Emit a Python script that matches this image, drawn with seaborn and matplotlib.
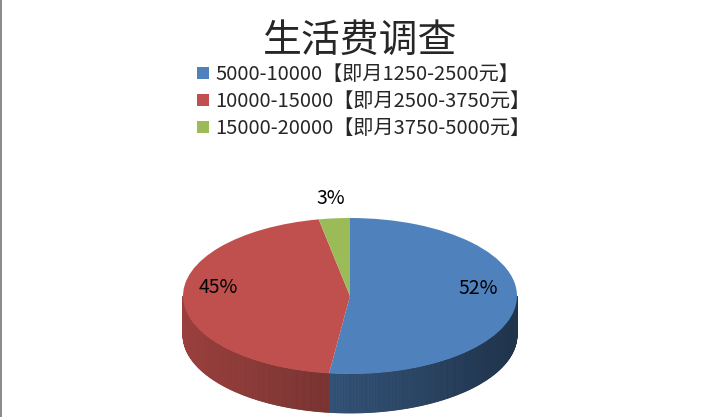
import numpy as np
import matplotlib.pyplot as plt
import seaborn as sns
from matplotlib.colors import to_rgb
from matplotlib.patches import Rectangle

# data
categories = ["5000-10000【即月1250-2500元】",
              "10000-15000【即月2500-3750元】",
              "15000-20000【即月3750-5000元】"]
shares = [52, 45, 3]
title = "生活费调查"

colors = ["#4f81bd", "#c0504d", "#9bbb59"]

sns.set_theme(style="white")
plt.rcParams['font.family'] = ['Noto Sans CJK SC', 'DejaVu Sans']

fig = plt.figure(figsize=(7.2, 4.17), dpi=100)
ax = fig.add_axes([0, 0, 1, 1])

depth = 0.5

# side wall of the 3d pie (front half only), shaded left -> right
bounds = np.cumsum(shares) / np.sum(shares) * 360
theta = np.linspace(180, 360, 361)
for t0, t1 in zip(theta[:-1], theta[1:]):
    tm = (t0 + t1) / 2
    idx = np.searchsorted(bounds, (90 - tm) % 360)
    xs = np.cos(np.radians([t0, t1]))
    ys = np.sin(np.radians([t0, t1]))
    shade = 0.6 - 0.2 * np.cos(np.radians(tm))
    c = tuple(v * shade for v in to_rgb(colors[idx]))
    ax.fill([xs[0], xs[1], xs[1], xs[0]],
            [ys[0], ys[1], ys[1] - depth, ys[0] - depth],
            color=c, ec=c, lw=0.6)

# top face
wedges, texts, autotexts = ax.pie(
    shares, colors=colors, startangle=90, counterclock=False,
    radius=1, center=(0, 0), autopct=lambda p: f"{p:.0f}%",
    wedgeprops=dict(linewidth=0), textprops=dict(fontsize=14, color="black"))

label_r = [0.77, 0.79, 1.25]
label_lift = [0.14, 0.14, 0.0]
for w, t, r, lift in zip(wedges, autotexts, label_r, label_lift):
    mid = np.radians((w.theta1 + w.theta2) / 2)
    t.set_position((r * np.cos(mid), r * np.sin(mid) + lift))

ax.set_aspect('auto')
ax.set_xlim(-350 / 167, 370 / 167)
ax.set_ylim(-121 / 78, 296 / 78)
ax.axis('off')

fig.text(360 / 720, 1 - 41 / 417, title, fontsize=28, ha='center', va='center')

fig.legend(wedges, categories, loc='upper left',
           bbox_to_anchor=(197 / 720, 1 - 64 / 417), frameon=False,
           fontsize=14.5, handlelength=0.6, handleheight=0.6,
           handletextpad=0.3, labelspacing=0.3, borderpad=0,
           borderaxespad=0)

fig.add_artist(Rectangle((0, 0), 2 / 720, 1, transform=fig.transFigure,
                         color="#8c8c8c", lw=0))

fig.savefig("out.png", dpi=100)
